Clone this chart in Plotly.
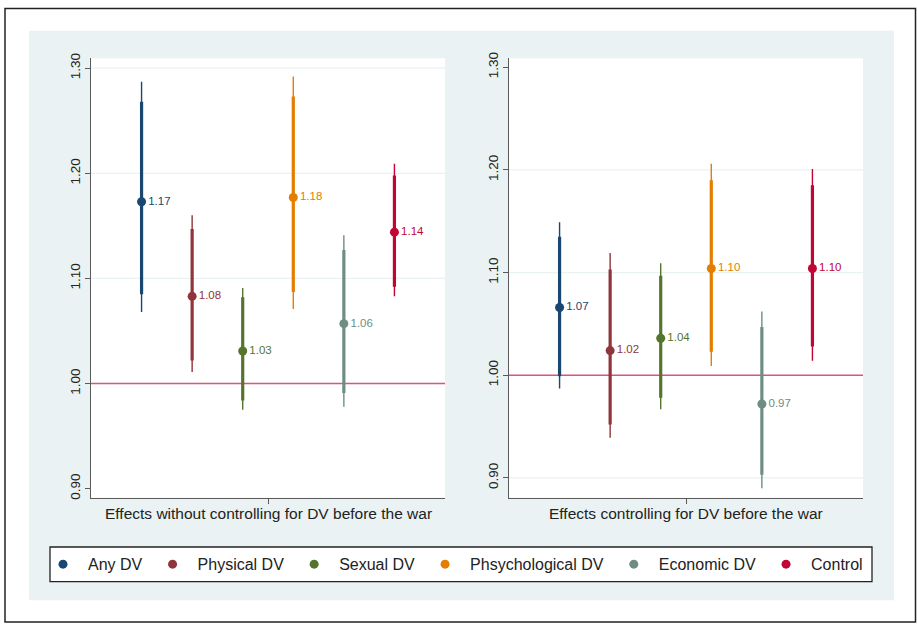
import plotly.graph_objects as go

# ---------------- data ----------------
series = ["Any DV", "Physical DV", "Sexual DV", "Phsychological DV", "Economic DV", "Control"]
colors = ["#1a476f", "#90353b", "#55752f", "#e37e00", "#6e8e84", "#c10534"]
positions = [-2.5, -1.5, -0.5, 0.5, 1.5, 2.5]

panel_titles = ["Effects without controlling for DV before the war",
                "Effects controlling for DV before the war"]

# Panel 1: without controlling for DV before the war
p1_est = [1.173, 1.083, 1.031, 1.177, 1.057, 1.144]
p1_lo90 = [1.085, 1.022, 0.984, 1.087, 0.991, 1.092]
p1_hi90 = [1.268, 1.147, 1.082, 1.273, 1.127, 1.198]
p1_lo95 = [1.068, 1.011, 0.975, 1.071, 0.978, 1.083]
p1_hi95 = [1.287, 1.160, 1.091, 1.292, 1.141, 1.209]

# Panel 2: controlling for DV before the war
p2_est = [1.066, 1.024, 1.036, 1.104, 0.972, 1.104]
p2_lo90 = [0.999, 0.952, 0.978, 1.023, 0.903, 1.028]
p2_hi90 = [1.135, 1.103, 1.097, 1.190, 1.047, 1.185]
p2_lo95 = [0.987, 0.939, 0.967, 1.009, 0.890, 1.014]
p2_hi95 = [1.149, 1.119, 1.109, 1.206, 1.062, 1.201]

y_ticks = [0.90, 1.00, 1.10, 1.20, 1.30]
ref_value = 1.00

# ---------------- figure ----------------
W, H = 917, 625
FONT = "Liberation Sans, Arial, Helvetica, sans-serif"
BG = "#eaf2f3"

def px_x(p):
    return p / W

def px_y(p):
    return 1 - p / H

fig = go.Figure()

panels = [
    dict(est=p1_est, lo90=p1_lo90, hi90=p1_hi90, lo95=p1_lo95, hi95=p1_hi95, xa="x", ya="y"),
    dict(est=p2_est, lo90=p2_lo90, hi90=p2_hi90, lo95=p2_lo95, hi95=p2_hi95, xa="x2", ya="y2"),
]

for pi, p in enumerate(panels):
    for i, name in enumerate(series):
        c = colors[i]
        x0 = positions[i]
        # outer (thin) interval
        fig.add_trace(go.Scatter(
            x=[x0, x0], y=[p["lo95"][i], p["hi95"][i]], mode="lines",
            line=dict(color=c, width=1.4), xaxis=p["xa"], yaxis=p["ya"],
            showlegend=False, hoverinfo="skip"))
        # inner (thick) interval
        fig.add_trace(go.Scatter(
            x=[x0, x0], y=[p["lo90"][i], p["hi90"][i]], mode="lines",
            line=dict(color=c, width=3.2), xaxis=p["xa"], yaxis=p["ya"],
            showlegend=False, hoverinfo="skip"))
        # point estimate + label
        fig.add_trace(go.Scatter(
            x=[x0], y=[p["est"][i]], mode="markers+text",
            marker=dict(color=c, size=9),
            text=[f"{p['est'][i]:.2f}"], textposition="middle right",
            textfont=dict(color=c, size=11.5, family=FONT),
            name=name, legendgroup=name, showlegend=(pi == 0),
            xaxis=p["xa"], yaxis=p["ya"]))

ydom = [px_y(498), px_y(53)]
axis_common = dict(showline=True, linecolor="#5a5a5a", linewidth=1,
                   ticks="outside", tickcolor="#5a5a5a", ticklen=5, zeroline=False,
                   showgrid=False)

fig.update_layout(
    width=W, height=H,
    margin=dict(l=0, r=0, t=0, b=0),
    paper_bgcolor="white", plot_bgcolor="white",
    font=dict(family=FONT, color="#222222"),
    xaxis=dict(domain=[px_x(91), px_x(445)], range=[-3.5, 3.5], anchor="y",
               tickvals=[0], showticklabels=False, **axis_common),
    yaxis=dict(domain=ydom, range=[0.8915, 1.3094], anchor="x",
               tickvals=y_ticks, tickformat=".2f", tickangle=-90,
               tickfont=dict(size=13.5, color="#222222"), **axis_common),
    xaxis2=dict(domain=[px_x(509), px_x(863)], range=[-3.5, 3.5], anchor="y2",
                tickvals=[0], showticklabels=False, **axis_common),
    yaxis2=dict(domain=ydom, range=[0.8808, 1.3087], anchor="x2",
                tickvals=y_ticks, tickformat=".2f", tickangle=-90,
                tickfont=dict(size=13.5, color="#222222"), **axis_common),
    legend=dict(orientation="h", x=px_x(38), xanchor="left",
                y=px_y(565.5), yanchor="middle",
                bgcolor="rgba(0,0,0,0)", borderwidth=0,
                font=dict(size=16, family=FONT, color="#222222"),
                itemwidth=40, itemclick=False),
    showlegend=True,
)

shapes = []
# outer frame
shapes.append(dict(type="rect", xref="paper", yref="paper",
                   x0=px_x(5), x1=px_x(915.5), y0=px_y(624), y1=px_y(2.5),
                   line=dict(color="#222222", width=1.5), fillcolor="rgba(0,0,0,0)",
                   layer="below"))
# graph region background
shapes.append(dict(type="rect", xref="paper", yref="paper",
                   x0=px_x(29), x1=px_x(894), y0=px_y(602), y1=px_y(25),
                   line=dict(width=0), fillcolor=BG, layer="below"))
# legend box
shapes.append(dict(type="rect", xref="paper", yref="paper",
                   x0=px_x(50), x1=px_x(872), y0=px_y(583), y1=px_y(548),
                   line=dict(color="#222222", width=1.3), fillcolor="white",
                   layer="below"))
# white plot regions, gridlines, reference lines
grid_sets = [[1.10, 1.20, 1.30], [0.90, 1.10, 1.20]]
for (xa, ya), grids in zip([("x", "y"), ("x2", "y2")], grid_sets):
    shapes.append(dict(type="rect", xref=f"{xa} domain", yref=f"{ya} domain",
                       x0=0, x1=1, y0=0, y1=1, line=dict(width=0),
                       fillcolor="white", layer="below"))
    for g in grids:
        shapes.append(dict(type="line", xref=f"{xa} domain", yref=ya,
                           x0=0, x1=1, y0=g, y1=g,
                           line=dict(color=BG, width=1.2), layer="below"))
    shapes.append(dict(type="line", xref=f"{xa} domain", yref=ya,
                       x0=0, x1=1, y0=ref_value, y1=ref_value,
                       line=dict(color="#da5577", width=1.6), layer="below"))
fig.update_layout(shapes=shapes)

# x-axis titles
for cx, title in zip([268, 686], panel_titles):
    fig.add_annotation(text=title, xref="paper", yref="paper",
                       x=px_x(cx), y=px_y(514), xanchor="center", yanchor="middle",
                       showarrow=False, font=dict(size=15.5, family=FONT, color="#222222"))

fig.write_html("out.html", config={"displayModeBar": False},
               post_script="document.body.style.margin='0';document.body.style.overflow='hidden';")
